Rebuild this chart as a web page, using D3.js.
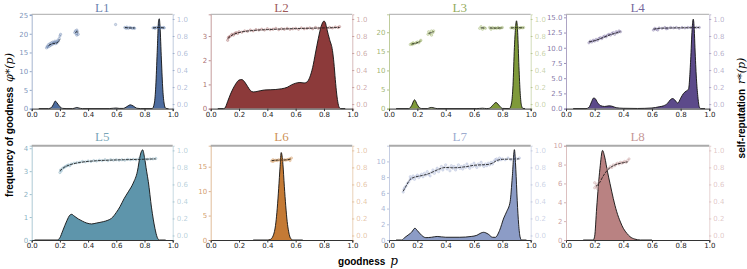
<!DOCTYPE html>
<html><head><meta charset="utf-8">
<script src="https://cdn.jsdelivr.net/npm/d3@7"></script>
<style>body{margin:0;background:#fff}svg{display:block}</style>
</head><body>
<svg id="chart" width="747" height="269"></svg>
<script>
// ---------- DATA ----------
const titles = ["L1","L2","L3","L4","L5","L6","L7","L8"];
const colors = ["#4d6c9f","#8c3a3a","#7f9a3a","#5c4a8a","#5e95ab","#c47a35","#8c9cc6","#b98282"];
const yMax = [25.2, 3.9, 24.7, 15.5, 4.11, 19.3, 12.0, 10];
const yTicks = [[0,5,10,15,20,25],[0,1,2,3],[0,5,10,15,20],[0,2.5,5,7.5,10,12.5,15],[0,1,2,3,4],[0,5,10,15],[0,2,4,6,8,10],[0,2,4,6,8,10]];
const yFormats = ["d","d","d",".1f","d","d","d","d"];
const xTicks = [0,0.2,0.4,0.6,0.8,1.0];
const rTicks = [0,0.2,0.4,0.6,0.8,1.0];

const densL1 = [[0.05,0],[0.12,0],[0.14,0.3],[0.155,1.2],[0.167,2.0],[0.18,1.5],[0.2,0.5],[0.22,0.05],[0.25,0],[0.29,0],[0.31,0.2],[0.32,0.3],[0.335,0.15],[0.36,0],[0.55,0],[0.58,0.1],[0.6,0.15],[0.62,0.05],[0.65,0.05],[0.67,0.4],[0.7,1.0],[0.72,0.7],[0.745,0.1],[0.77,0],[0.855,0],[0.87,1.5],[0.88,6],[0.89,15],[0.9,23.5],[0.905,24],[0.91,22],[0.92,13],[0.93,5],[0.94,1.2],[0.95,0.1],[0.96,0],[0.97,0]];
const densL2 = [[0.05,0],[0.09,0],[0.1,0.02],[0.12,0.3],[0.14,0.6],[0.16,0.85],[0.18,1.05],[0.2,1.18],[0.22,1.2],[0.24,1.1],[0.26,0.92],[0.28,0.75],[0.3,0.69],[0.32,0.7],[0.35,0.74],[0.38,0.77],[0.42,0.78],[0.46,0.79],[0.5,0.82],[0.54,0.88],[0.57,0.98],[0.6,1.05],[0.63,1.08],[0.66,1.06],[0.68,1.1],[0.7,1.3],[0.72,1.7],[0.74,2.3],[0.76,2.9],[0.78,3.4],[0.8,3.62],[0.81,3.55],[0.82,3.3],[0.84,2.85],[0.86,2.4],[0.87,1.9],[0.88,1.2],[0.89,0.6],[0.9,0.2],[0.91,0.03],[0.92,0],[0.95,0]];
const densL3 = [[0.05,0],[0.14,0],[0.16,0.8],[0.18,2.3],[0.2,1.0],[0.22,0.1],[0.24,0],[0.27,0],[0.29,0.25],[0.3,0.3],[0.32,0.15],[0.34,0],[0.62,0],[0.66,0.1],[0.69,0],[0.71,0.1],[0.73,0.8],[0.755,1.6],[0.78,0.7],[0.8,0.05],[0.85,0],[0.865,1.5],[0.875,6],[0.885,16],[0.9,23],[0.908,20],[0.917,11],[0.926,4],[0.935,0.8],[0.945,0.05],[0.96,0]];
const densL4 = [[0.05,0],[0.14,0],[0.16,0.2],[0.18,1.2],[0.19,1.7],[0.2,1.7],[0.22,1.0],[0.24,0.5],[0.27,0.35],[0.3,0.45],[0.32,0.4],[0.35,0.15],[0.4,0.05],[0.5,0.02],[0.6,0.1],[0.65,0.3],[0.68,0.45],[0.71,0.9],[0.73,1.5],[0.745,1.65],[0.76,1.4],[0.78,0.9],[0.8,1.7],[0.82,2.5],[0.84,2.9],[0.855,3.2],[0.87,8],[0.88,13],[0.888,14.7],[0.895,13],[0.9,10],[0.91,5],[0.92,2],[0.93,0.3],[0.94,0],[0.97,0]];
const densL5 = [[0.02,0],[0.18,0],[0.2,0.1],[0.22,0.4],[0.25,0.85],[0.27,1.08],[0.284,1.12],[0.3,1.05],[0.33,0.92],[0.36,0.82],[0.39,0.74],[0.425,0.7],[0.46,0.74],[0.508,0.8],[0.54,0.86],[0.567,0.95],[0.6,1.2],[0.626,1.45],[0.655,1.8],[0.685,2.1],[0.72,2.48],[0.75,3.0],[0.77,3.7],[0.787,3.93],[0.8,3.6],[0.815,3.0],[0.827,2.55],[0.85,1.4],[0.874,0.51],[0.89,0.12],[0.905,0],[0.95,0]];
const densL6 = [[0.3,0],[0.4,0],[0.42,0.1],[0.44,0.8],[0.46,3.5],[0.47,6.5],[0.48,10.5],[0.49,15],[0.498,17.9],[0.51,15.5],[0.52,11],[0.53,7],[0.54,3.8],[0.55,1.8],[0.56,0.6],[0.57,0.15],[0.58,0],[0.65,0]];
const densL7 = [[0.05,0],[0.09,0],[0.11,0.3],[0.14,0.7],[0.16,1.0],[0.183,1.5],[0.2,1.2],[0.23,0.6],[0.26,0.3],[0.3,0.35],[0.34,0.45],[0.4,0.35],[0.5,0.35],[0.58,0.45],[0.62,0.6],[0.65,0.9],[0.667,0.98],[0.7,0.75],[0.73,0.35],[0.75,0.34],[0.78,1.2],[0.81,2.8],[0.83,3.6],[0.855,4.9],[0.87,8],[0.885,11.5],[0.895,9],[0.905,5],[0.915,2],[0.925,0.4],[0.935,0],[0.97,0]];
const densL8 = [[0.12,0],[0.19,0],[0.2,0.4],[0.214,3.4],[0.237,7.6],[0.255,9.5],[0.27,8.8],[0.29,7.2],[0.307,6.0],[0.33,4.4],[0.354,3.0],[0.38,1.9],[0.4,1.24],[0.425,0.7],[0.447,0.35],[0.48,0.1],[0.52,0],[0.6,0]];

const scatL1 = [[0.105,0.66],[0.11,0.68],[0.115,0.67],[0.12,0.7],[0.125,0.68],[0.13,0.71],[0.135,0.69],[0.14,0.72],[0.145,0.7],[0.15,0.73],[0.155,0.71],[0.16,0.72],[0.165,0.74],[0.17,0.71],[0.175,0.73],[0.18,0.72],[0.185,0.75],[0.19,0.74],[0.195,0.77],[0.2,0.8],[0.205,0.82],[0.305,0.84],[0.31,0.86],[0.315,0.83],[0.32,0.87],[0.325,0.85],[0.33,0.82],[0.32,0.81],[0.595,0.935],[0.66,0.9],[0.67,0.89],[0.675,0.905],[0.685,0.89],[0.695,0.9],[0.705,0.895],[0.715,0.89],[0.725,0.895],[0.73,0.89],[0.86,0.895],[0.87,0.9],[0.875,0.89],[0.885,0.9],[0.895,0.9],[0.905,0.895],[0.915,0.9],[0.925,0.895],[0.935,0.9],[0.94,0.895]];
const scatL2 = [[0.12,0.75],[0.125,0.78],[0.13,0.79],[0.14,0.8],[0.15,0.82],[0.16,0.81],[0.17,0.83],[0.18,0.84],[0.19,0.83],[0.2,0.85],[0.22,0.845],[0.24,0.86],[0.26,0.855],[0.28,0.87],[0.3,0.86],[0.32,0.875],[0.34,0.87],[0.36,0.88],[0.38,0.87],[0.4,0.885],[0.42,0.875],[0.44,0.88],[0.46,0.89],[0.48,0.875],[0.5,0.885],[0.52,0.88],[0.54,0.89],[0.56,0.88],[0.58,0.885],[0.6,0.89],[0.62,0.88],[0.64,0.895],[0.66,0.885],[0.68,0.89],[0.7,0.895],[0.72,0.885],[0.74,0.9],[0.76,0.89],[0.78,0.895],[0.8,0.9],[0.82,0.89],[0.84,0.9],[0.86,0.895],[0.88,0.905],[0.9,0.9],[0.91,0.91]];
const scatL3 = [[0.15,0.7],[0.16,0.71],[0.165,0.7],[0.17,0.72],[0.18,0.71],[0.19,0.72],[0.2,0.73],[0.21,0.72],[0.22,0.74],[0.225,0.75],[0.275,0.82],[0.28,0.85],[0.29,0.83],[0.3,0.86],[0.31,0.84],[0.315,0.86],[0.3,0.81],[0.64,0.89],[0.65,0.91],[0.66,0.88],[0.67,0.9],[0.68,0.89],[0.71,0.9],[0.72,0.88],[0.73,0.9],[0.74,0.89],[0.75,0.895],[0.76,0.89],[0.77,0.9],[0.78,0.89],[0.79,0.895],[0.8,0.9],[0.86,0.895],[0.87,0.9],[0.88,0.89],[0.89,0.9],[0.9,0.895],[0.91,0.9],[0.92,0.89],[0.93,0.9],[0.94,0.895],[0.95,0.9]];
const scatL4 = [[0.16,0.72],[0.17,0.74],[0.18,0.73],[0.19,0.75],[0.2,0.74],[0.21,0.76],[0.22,0.75],[0.23,0.77],[0.24,0.78],[0.25,0.77],[0.26,0.79],[0.27,0.8],[0.28,0.79],[0.29,0.81],[0.3,0.82],[0.31,0.81],[0.32,0.83],[0.33,0.84],[0.34,0.82],[0.35,0.85],[0.36,0.84],[0.37,0.86],[0.38,0.85],[0.61,0.87],[0.62,0.89],[0.63,0.88],[0.64,0.87],[0.65,0.895],[0.67,0.89],[0.69,0.9],[0.7,0.885],[0.71,0.89],[0.73,0.9],[0.75,0.895],[0.77,0.9],[0.79,0.89],[0.81,0.9],[0.83,0.895],[0.85,0.9],[0.87,0.9],[0.89,0.895],[0.91,0.9],[0.93,0.9]];
const scatL5 = [[0.2,0.74],[0.205,0.77],[0.21,0.76],[0.22,0.79],[0.23,0.8],[0.24,0.81],[0.25,0.82],[0.26,0.83],[0.27,0.82],[0.28,0.84],[0.3,0.85],[0.32,0.855],[0.34,0.86],[0.36,0.87],[0.38,0.865],[0.4,0.875],[0.42,0.87],[0.44,0.88],[0.46,0.875],[0.48,0.885],[0.5,0.88],[0.52,0.89],[0.54,0.88],[0.56,0.89],[0.58,0.885],[0.6,0.89],[0.62,0.885],[0.64,0.89],[0.66,0.885],[0.68,0.895],[0.7,0.89],[0.72,0.895],[0.74,0.89],[0.76,0.9],[0.78,0.895],[0.8,0.9],[0.82,0.895],[0.84,0.9],[0.86,0.9],[0.88,0.905]];
const scatL6 = [[0.43,0.875],[0.44,0.89],[0.44,0.87],[0.45,0.88],[0.46,0.885],[0.47,0.88],[0.48,0.89],[0.49,0.885],[0.5,0.89],[0.51,0.88],[0.52,0.89],[0.53,0.885],[0.54,0.89],[0.55,0.895],[0.56,0.9],[0.56,0.88],[0.57,0.91]];
const scatL7 = [[0.1,0.51],[0.105,0.54],[0.11,0.56],[0.12,0.58],[0.13,0.61],[0.14,0.63],[0.15,0.66],[0.15,0.69],[0.16,0.67],[0.17,0.7],[0.18,0.66],[0.19,0.69],[0.2,0.71],[0.21,0.68],[0.22,0.7],[0.23,0.72],[0.24,0.69],[0.25,0.73],[0.26,0.71],[0.27,0.75],[0.28,0.72],[0.29,0.7],[0.3,0.74],[0.31,0.77],[0.32,0.73],[0.33,0.76],[0.34,0.79],[0.35,0.75],[0.36,0.78],[0.37,0.81],[0.38,0.77],[0.39,0.8],[0.4,0.83],[0.41,0.78],[0.42,0.8],[0.43,0.76],[0.44,0.82],[0.45,0.79],[0.46,0.81],[0.47,0.77],[0.48,0.8],[0.49,0.83],[0.5,0.79],[0.51,0.81],[0.52,0.78],[0.53,0.82],[0.54,0.8],[0.55,0.84],[0.56,0.81],[0.57,0.79],[0.58,0.83],[0.59,0.81],[0.6,0.85],[0.61,0.82],[0.62,0.8],[0.63,0.84],[0.64,0.82],[0.65,0.86],[0.66,0.83],[0.67,0.81],[0.68,0.84],[0.69,0.82],[0.7,0.85],[0.71,0.83],[0.72,0.86],[0.73,0.84],[0.74,0.87],[0.75,0.89],[0.76,0.9],[0.77,0.88],[0.78,0.91],[0.79,0.89],[0.8,0.9],[0.82,0.89],[0.84,0.91],[0.86,0.89],[0.88,0.9],[0.9,0.9],[0.92,0.91]];
const scatL8 = [[0.2,0.56],[0.2,0.62],[0.21,0.58],[0.215,0.6],[0.22,0.57],[0.22,0.55],[0.23,0.62],[0.24,0.65],[0.25,0.68],[0.26,0.72],[0.27,0.73],[0.28,0.76],[0.29,0.78],[0.3,0.79],[0.31,0.81],[0.32,0.8],[0.33,0.83],[0.34,0.82],[0.35,0.84],[0.36,0.85],[0.37,0.84],[0.38,0.86],[0.39,0.85],[0.4,0.86],[0.41,0.87],[0.42,0.86],[0.43,0.88],[0.44,0.9]];

const lineL1 = [[0.12,0.69],[0.15,0.71],[0.18,0.72],[0.2,0.76],null,[0.31,0.84],[0.32,0.85],[0.33,0.84],null,[0.66,0.9],[0.7,0.895],[0.73,0.895],null,[0.86,0.895],[0.9,0.9],[0.94,0.895]];
const lineL2 = [[0.12,0.77],[0.15,0.81],[0.2,0.84],[0.3,0.865],[0.4,0.875],[0.5,0.882],[0.6,0.887],[0.7,0.891],[0.8,0.895],[0.91,0.9]];
const lineL3 = [[0.16,0.705],[0.19,0.715],[0.22,0.735],null,[0.28,0.83],[0.3,0.84],[0.315,0.85],null,[0.65,0.895],[0.68,0.895],null,[0.71,0.895],[0.75,0.893],[0.8,0.895],null,[0.86,0.895],[0.9,0.897],[0.95,0.897]];
const lineL4 = [[0.16,0.73],[0.2,0.745],[0.25,0.775],[0.3,0.81],[0.35,0.835],[0.38,0.85],null,[0.61,0.88],[0.65,0.89],[0.75,0.895],[0.85,0.897],[0.93,0.9]];
const lineL5 = [[0.2,0.76],[0.23,0.8],[0.27,0.83],[0.35,0.86],[0.45,0.877],[0.55,0.885],[0.65,0.89],[0.75,0.894],[0.88,0.9]];
const lineL6 = [[0.43,0.88],[0.47,0.885],[0.5,0.887],[0.53,0.888],[0.57,0.9]];
const lineL7 = [[0.1,0.52],[0.12,0.58],[0.15,0.66],[0.18,0.685],[0.22,0.7],[0.27,0.72],[0.32,0.755],[0.37,0.79],[0.4,0.8],[0.45,0.795],[0.5,0.8],[0.55,0.81],[0.6,0.825],[0.65,0.83],[0.7,0.835],[0.73,0.85],[0.76,0.88],[0.8,0.895],[0.85,0.897],[0.92,0.9]];
const lineL8 = [[0.21,0.58],[0.23,0.61],[0.26,0.7],[0.29,0.77],[0.32,0.81],[0.36,0.84],[0.4,0.855],[0.43,0.865]];

const densities = [densL1,densL2,densL3,densL4,densL5,densL6,densL7,densL8];
const scatters = [scatL1,scatL2,scatL3,scatL4,scatL5,scatL6,scatL7,scatL8];
const lines = [lineL1,lineL2,lineL3,lineL4,lineL5,lineL6,lineL7,lineL8];

// ---------- LAYOUT ----------
const svg = d3.select("#chart");
const colLeft = [31.7, 210.7, 389, 566];
const colWidth = [141, 141.6, 141.7, 143.3];
const rowTop = [14.3, 145.7];
const plotH = 94.3;

titles.forEach((t, i) => {
  const row = Math.floor(i / 4), col = i % 4;
  const x0 = colLeft[col], w = colWidth[col], y0 = rowTop[row];
  const c = colors[i];
  const g = svg.append("g").attr("transform", `translate(${x0},${y0})`);
  const x = d3.scaleLinear().domain([0, 1]).range([0, w]);
  const y = d3.scaleLinear().domain([0, yMax[i]]).range([plotH, 0]);
  const r = d3.scaleLinear().domain([-0.053, 1.055]).range([plotH, 0]);

  // density
  const area = d3.area().x(d => x(d[0])).y0(y(0)).y1(d => y(d[1])).curve(d3.curveMonotoneX);
  const ln = d3.line().x(d => x(d[0])).y(d => y(d[1])).curve(d3.curveMonotoneX);
  g.append("path").datum(densities[i]).attr("d", area).attr("fill", c).attr("stroke", "none");
  g.append("path").datum(densities[i]).attr("d", ln).attr("fill", "none").attr("stroke", "#111").attr("stroke-width", 0.9);

  // scatter
  g.append("g").selectAll("circle").data(scatters[i]).join("circle")
    .attr("cx", d => x(d[0])).attr("cy", d => r(d[1])).attr("r", 1.2)
    .attr("fill", c).attr("fill-opacity", 0.25).attr("stroke", c).attr("stroke-opacity", 0.5).attr("stroke-width", 0.5);
  const rl = d3.line().defined(d => d).x(d => x(d[0])).y(d => r(d[1])).curve(d3.curveMonotoneX);
  g.append("path").datum(lines[i]).attr("d", rl).attr("fill", "none").attr("stroke", "#111").attr("stroke-width", 0.8).attr("stroke-dasharray", "3,1");

  // axes
  const xa = g.append("g").attr("transform", `translate(0,${plotH})`)
    .call(d3.axisBottom(x).tickValues(xTicks).tickFormat(d3.format(".1f")).tickSize(2.5).tickPadding(1));
  xa.select(".domain").attr("stroke", "#333").attr("stroke-width", 1);
  xa.selectAll(".tick line").attr("stroke", "#333");
  xa.selectAll("text").attr("fill", "#222").style("font", "7px 'DejaVu Sans'");

  const ya = g.append("g").call(d3.axisLeft(y).tickValues(yTicks[i]).tickFormat(d3.format(yFormats[i])).tickSize(2).tickPadding(1.5));
  ya.select(".domain").attr("stroke", c).attr("stroke-opacity", 0.5);
  ya.selectAll(".tick line").attr("stroke", c).attr("stroke-opacity", 0.6);
  ya.selectAll("text").attr("fill", c).attr("fill-opacity", 0.75).style("font", "7px 'DejaVu Sans'");

  const ra = g.append("g").attr("transform", `translate(${w},0)`)
    .call(d3.axisRight(r).tickValues(rTicks).tickFormat(d3.format(".1f")).tickSize(2).tickPadding(2));
  ra.select(".domain").attr("stroke", c).attr("stroke-opacity", 0.35);
  ra.selectAll(".tick line").attr("stroke", c).attr("stroke-opacity", 0.4);
  ra.selectAll("text").attr("fill", c).attr("fill-opacity", 0.45).style("font", "7px 'DejaVu Sans'");

  // top spine
  g.append("line").attr("x1", 0).attr("x2", w).attr("y1", 0).attr("y2", 0)
    .attr("stroke", "#aaa").attr("stroke-width", row === 0 ? 1 : 2);

  // title
  g.append("text").attr("x", w / 2).attr("y", row === 0 ? -2.5 : -5).attr("text-anchor", "middle")
    .attr("fill", c).attr("fill-opacity", 0.85)
    .style("font", "13px 'Liberation Serif'").text(t);
});

// axis labels
const lab = svg.append("text").attr("transform", "translate(12.5,125) rotate(-90)").attr("text-anchor", "middle");
lab.append("tspan").style("font", "bold 10px 'Liberation Sans'").text("frequency of goodness");
lab.append("tspan").style("font", "italic 11px 'DejaVu Serif'").attr("dx", 5).text("φ*(p)");

const rlab = svg.append("text").attr("transform", "translate(745,108) rotate(-90)").attr("text-anchor", "middle");
rlab.append("tspan").style("font", "bold 10px 'Liberation Sans'").text("self-reputation");
rlab.append("tspan").style("font", "italic 11px 'DejaVu Serif'").attr("dx", 5).text("r*(p)");

const blab = svg.append("text").attr("x", 368).attr("y", 265).attr("text-anchor", "middle");
blab.append("tspan").style("font", "bold 10px 'Liberation Sans'").text("goodness");
blab.append("tspan").style("font", "italic 12px 'DejaVu Serif'").attr("dx", 5).text("p");
</script>
</body></html>
